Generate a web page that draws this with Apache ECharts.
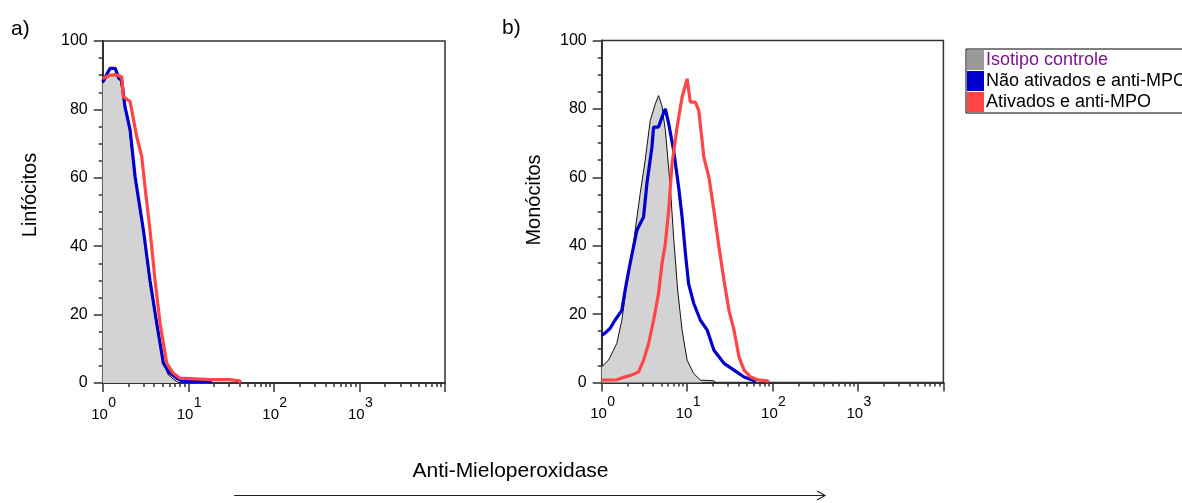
<!DOCTYPE html>
<html>
<head>
<meta charset="utf-8">
<script src="https://cdn.jsdelivr.net/npm/echarts@6/dist/echarts.min.js"></script>
<style>
html,body{margin:0;padding:0;background:#fff;}
#c{width:1182px;height:503px;}
</style>
</head>
<body>
<div id="c"></div>
<script>
// ---- data ----
const seriesNames = ['Isotipo controle', 'Não ativados e anti-MPO', 'Ativados e anti-MPO'];
const yTicks = [0, 20, 40, 60, 80, 100];
const xDecades = [1, 10, 100, 1000, 10000];
const xExponents = ['0', '1', '2', '3'];
const xMinorTicks = [2,3,4,5,6,7,8,9,20,30,40,50,60,70,80,90,200,300,400,500,600,700,800,900,2000,3000,4000,5000,6000,7000,8000,9000];

// panel a) Linfócitos  [fluorescence, count]
const linfIsotipo = [[1,87.6],[1.1,89],[1.25,90],[1.45,90.5],[1.6,88.5],[1.8,81],[2.05,74],[2.35,61],[2.7,52],[3.0,44],[3.5,30.5],[4.2,17.5],[5.0,6.5],[5.8,2.5],[6.8,1],[7.5,0.3],[8,0]];
const linfNaoAtivados = [[1,88],[1.1,90],[1.22,92],[1.4,92],[1.55,89],[1.67,88.6],[1.82,80.8],[2.09,74],[2.39,60.3],[2.99,44.7],[3.57,30],[4.28,17.5],[5.12,5.8],[6.0,3],[7.34,1.4],[8.5,0.5],[18,0.5],[18.5,0]];
const linfAtivados = [[1,89],[1.2,90],[1.5,90],[1.67,89.5],[1.74,83.7],[2.09,82.3],[2.5,72],[2.86,66.2],[3.12,57.4],[3.57,44.7],[4.09,30],[4.68,17.5],[5.6,5.8],[6.64,2.9],[8,1.4],[12,1.2],[18,1],[30,1],[40,0.6],[41,0]];

// panel b) Monócitos
const monoIsotipo = [[1,4.6],[1.2,6.5],[1.37,9.4],[1.5,11.4],[1.72,18.2],[1.97,28.9],[2.35,40.6],[2.82,55.2],[3.23,65],[3.7,76.6],[4.24,81.5],[4.63,83.9],[5.08,80.9],[5.56,73.7],[6.36,57.1],[6.95,42.5],[7.75,27],[8.73,15.3],[10,6.5],[11.96,2.6],[14.3,0.7],[20.6,0.5],[21.5,0]];
const monoNaoAtivados = [[1,13.8],[1.1,14.5],[1.25,15.8],[1.43,18.2],[1.72,21.1],[1.88,27],[2.15,34.8],[2.58,44.5],[3.09,48.4],[3.38,58.1],[3.87,68.8],[4.05,74.7],[4.63,74.7],[5.08,77.6],[5.56,80],[6.08,75.7],[6.95,67.9],[7.96,57.1],[8.73,48.4],[9.55,37.7],[10.4,28.9],[11.96,23.1],[14.3,18.2],[17.2,15.3],[20.6,9.4],[27,5.6],[35.4,3.6],[46.4,1.6],[60.8,0.5],[62,0]];
const monoAtivados = [[1,0.7],[1.5,0.8],[1.8,1.5],[2.15,2],[2.7,3.1],[3.09,6.5],[3.54,11.4],[4.05,18.2],[4.63,26],[5.08,34.8],[5.56,40.6],[6.08,50.3],[6.66,64],[7.63,74.7],[8.73,83.4],[10,88.8],[10.9,82],[12.5,82],[13.7,79.5],[15.7,65.9],[18,60],[20.6,50.3],[23.6,39.6],[27,29.9],[30.9,21.1],[35.4,15.3],[40.5,7.5],[46.4,3.6],[55.6,1.6],[66.6,0.8],[87.4,0.5],[90,0]];

// ---- styling ----
const FONT = '"Liberation Sans", Arial, sans-serif';
const AX = '#333';
const GRAY_FILL = '#d3d3d3';
const BLUE = '#0000cc';
const RED = '#ff4545';

const grids = [
  {left: 102.7, top: 41, width: 342.3, height: 342},
  {left: 601.7, top: 40.5, width: 341.7, height: 342}
];

function majorX(gi) {
  return {
    type: 'log', logBase: 10, gridIndex: gi, min: xDecades[0], max: xDecades[xDecades.length - 1],
    position: 'bottom',
    axisLine: {show: true, onZero: false, lineStyle: {color: AX, width: 2}},
    axisTick: {show: true, length: 9, customValues: xDecades, lineStyle: {color: AX, width: 1.5}},
    splitLine: {show: false},
    minorTick: {show: false},
    axisLabel: {show: false}
  };
}
function minorX(gi) {
  return {
    type: 'log', logBase: 10, gridIndex: gi, min: xDecades[0], max: xDecades[xDecades.length - 1],
    position: 'bottom',
    axisLine: {show: false},
    axisLabel: {show: false},
    splitLine: {show: false},
    axisTick: {show: true, length: 4, customValues: xMinorTicks, lineStyle: {color: AX, width: 1.5}}
  };
}
function yAx(gi) {
  return {
    type: 'value', gridIndex: gi, min: yTicks[0], max: yTicks[yTicks.length - 1], interval: 20,
    axisLine: {show: true, lineStyle: {color: AX, width: 2}},
    axisTick: {show: true, length: 9, lineStyle: {color: AX, width: 1.5}},
    minorTick: {show: true, splitNumber: 4, length: 4, lineStyle: {color: AX, width: 1.5}},
    splitLine: {show: false},
    minorSplitLine: {show: false},
    axisLabel: {margin: 15, fontFamily: FONT, fontSize: 16, color: '#000'}
  };
}
function mkSeries(name, data, xi, yi, kind) {
  const s = {
    name: name, type: 'line', data: data, xAxisIndex: xi, yAxisIndex: yi,
    showSymbol: false, symbol: 'none', smooth: false, animation: false, silent: true
  };
  if (kind === 'gray') {
    s.lineStyle = {color: '#111', width: 1};
    s.itemStyle = {color: '#999'};
    s.areaStyle = {color: GRAY_FILL, opacity: 1};
    s.z = 1;
  } else if (kind === 'blue') {
    s.lineStyle = {color: BLUE, width: 3.2};
    s.itemStyle = {color: BLUE};
    s.z = 2;
  } else {
    s.lineStyle = {color: RED, width: 3.2};
    s.itemStyle = {color: RED};
    s.z = 3;
  }
  return s;
}

const option = {
  backgroundColor: '#fff',
  animation: false,
  grid: grids.map(g => Object.assign({show: true, borderColor: AX, borderWidth: 1.5, backgroundColor: 'transparent'}, g)),
  xAxis: [majorX(0), minorX(0), majorX(1), minorX(1)],
  yAxis: [yAx(0), yAx(1)],
  legend: {
    left: 966, top: 49, orient: 'vertical', selectedMode: false,
    icon: 'rect', itemWidth: 17, itemHeight: 20, itemGap: 1,
    padding: [1, 4, 1, 1],
    borderColor: '#000', borderWidth: 1, backgroundColor: '#fff',
    itemStyle: {borderWidth: 0},
    textStyle: {fontFamily: FONT, fontSize: 18, color: '#000', padding: [0, 0, 0, -3]},
    data: [
      {name: seriesNames[0], itemStyle: {color: '#999999', borderWidth: 0}, textStyle: {color: '#7a158f'}},
      {name: seriesNames[1], itemStyle: {color: BLUE, borderWidth: 0}},
      {name: seriesNames[2], itemStyle: {color: RED, borderWidth: 0}}
    ]
  },
  series: [
    mkSeries(seriesNames[0], linfIsotipo, 0, 0, 'gray'),
    mkSeries(seriesNames[1], linfNaoAtivados, 0, 0, 'blue'),
    mkSeries(seriesNames[2], linfAtivados, 0, 0, 'red'),
    mkSeries(seriesNames[0], monoIsotipo, 2, 1, 'gray'),
    mkSeries(seriesNames[1], monoNaoAtivados, 2, 1, 'blue'),
    mkSeries(seriesNames[2], monoAtivados, 2, 1, 'red')
  ],
  graphic: [
    {type: 'text', left: 11, top: 19, style: {text: 'a)', font: '21px ' + FONT, fill: '#000'}},
    {type: 'text', left: 502, top: 18, style: {text: 'b)', font: '21px ' + FONT, fill: '#000'}},
    {type: 'text', x: 30, y: 195, rotation: Math.PI / 2,
      style: {text: 'Linfócitos', font: '20px ' + FONT, fill: '#000', align: 'center', verticalAlign: 'middle'}},
    {type: 'text', x: 534, y: 200, rotation: Math.PI / 2,
      style: {text: 'Monócitos', font: '20px ' + FONT, fill: '#000', align: 'center', verticalAlign: 'middle'}},
    {type: 'text', x: 510.5, y: 471,
      style: {text: 'Anti-Mieloperoxidase', font: '21px ' + FONT, fill: '#000', align: 'center', verticalAlign: 'middle'}},
    {type: 'line', shape: {x1: 234, y1: 495.5, x2: 825, y2: 495.5}, style: {stroke: '#222', lineWidth: 1.2}},
    {type: 'polyline', shape: {points: [[817, 491], [825, 495.5], [817, 500]]}, style: {stroke: '#222', lineWidth: 1.2, fill: null}}
  ]
};

const chart = echarts.init(document.getElementById('c'), null, {renderer: 'canvas'});
chart.setOption(option);

// decade tick labels (10 with superscript exponent), positioned through the axis scale
const labelGraphics = [];
[0, 2].forEach(function (xi) {
  xExponents.forEach(function (ex, i) {
    const p = chart.convertToPixel({xAxisIndex: xi, yAxisIndex: xi / 2}, [xDecades[i], 0]);
    labelGraphics.push({
      type: 'text', x: p[0] - 11.5, y: p[1] + 24,
      style: {text: '10', font: '15px ' + FONT, fill: '#000', align: 'left', verticalAlign: 'top'}
    });
    labelGraphics.push({
      type: 'text', x: p[0] + 5.5, y: p[1] + 13,
      style: {text: ex, font: '14px ' + FONT, fill: '#000', align: 'left', verticalAlign: 'top'}
    });
  });
});
const g = option.graphic.concat(labelGraphics);
chart.setOption({graphic: g});
</script>
</body>
</html>
